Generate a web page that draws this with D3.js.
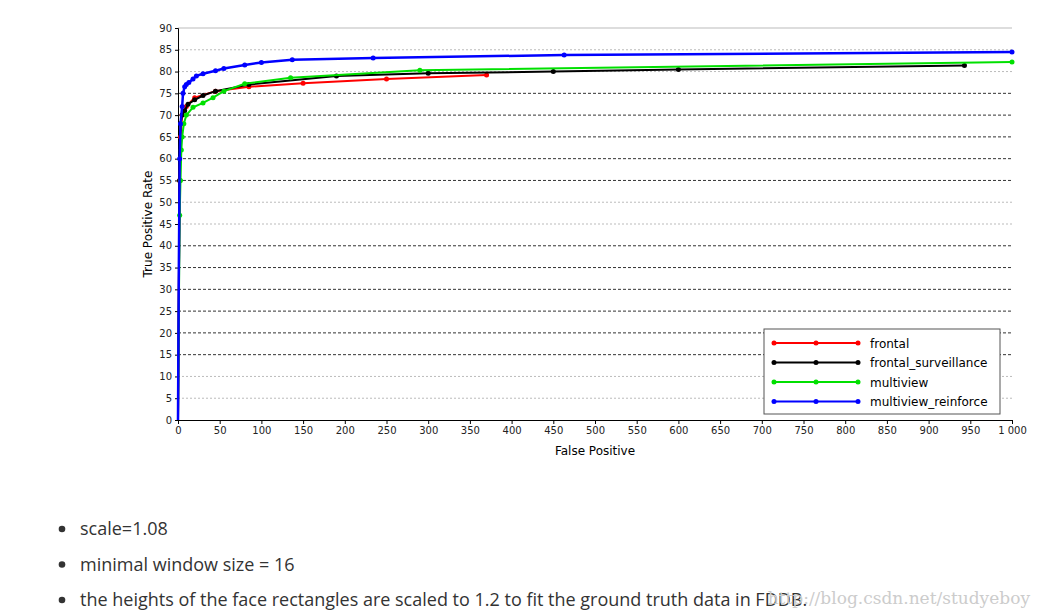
<!DOCTYPE html><html><head><meta charset="utf-8"><script src="https://cdn.jsdelivr.net/npm/d3@7"></script>
<style>body{margin:0;background:#fff;font-family:"DejaVu Sans",sans-serif}</style></head><body><svg id="c" width="1043" height="616"></svg>
<script>
const xTicks=d3.range(0,1001,50);
const yTicks=d3.range(0,91,5);
const lightGrid=[5,10,45,50,80,85];
const seriesNames=["frontal","frontal_surveillance","multiview","multiview_reinforce"];
const seriesColors=["#ff0000","#000000","#00e000","#0000ff"];
const frontal=[[0,0],[1,30],[2,55],[3,65],[5,70],[10,72],[20,74],[45,75.5],[85,76.5],[150,77.3],[250,78.3],[370,79.2]];
const frontalSurv=[[0,0],[1,30],[2,55],[3,68],[5,70],[8,71],[12,72.5],[20,73.5],[30,74.5],[45,75.5],[85,77],[190,79],[300,79.6],[450,80],[600,80.5],[943,81.4]];
const multiview=[[0,0],[1,25],[2,47],[3,55],[4,62],[5,65],[7,68],[10,70],[18,71.8],[30,72.8],[42,74],[55,75.5],[80,77.2],[135,78.6],[290,80.3],[1000,82.2]];
const multiviewRe=[[0,0],[1,35],[2,60],[3,68],[5,72],[6,75],[8,76.5],[10,77],[13,77.5],[18,78.3],[22,79],[30,79.5],[45,80.2],[55,80.7],[80,81.5],[100,82.1],[137,82.7],[234,83.1],[463,83.8],[1000,84.5]];
const allSeries=[frontal,frontalSurv,multiview,multiviewRe];
const bullets=["scale=1.08","minimal window size = 16","the heights of the face rectangles are scaled to 1.2 to fit the ground truth data in FDDB."];

const svg=d3.select("#c");
const x=d3.scaleLinear().domain([0,1000]).range([178,1012]);
const y=d3.scaleLinear().domain([0,90]).range([420,28]);
const g=svg.append("g");
yTicks.filter(v=>v>0).forEach(v=>{
  const light=lightGrid.includes(v)||v===90;
  g.append("line").attr("x1",x(0)).attr("x2",x(1000)).attr("y1",y(v)).attr("y2",y(v))
   .attr("stroke",light?"#bbb":"#333").attr("stroke-width",1)
   .attr("stroke-dasharray",v===90?null:(light?"2,2":"3,2"));
});
const xa=svg.append("g").attr("transform","translate(0,420)").call(d3.axisBottom(x).tickValues(xTicks).tickSize(4).tickFormat(d=>d===1000?"1 000":d));
const ya=svg.append("g").attr("transform","translate(178,0)").call(d3.axisLeft(y).tickValues(yTicks).tickSize(3));
[xa,ya].forEach(a=>{a.selectAll("text").attr("font-size",10).attr("fill","#222").attr("font-family","DejaVu Sans");a.select(".domain").attr("stroke","#000");});
svg.append("text").attr("x",595).attr("y",455).attr("text-anchor","middle").attr("font-size",12).text("False Positive");
svg.append("text").attr("transform","translate(152,224) rotate(-90)").attr("text-anchor","middle").attr("font-size",12).text("True Positive Rate");
const line=d3.line().x(d=>x(d[0])).y(d=>y(d[1]));
allSeries.forEach((s,i)=>{
  svg.append("path").datum(s).attr("d",line).attr("fill","none").attr("stroke",seriesColors[i]).attr("stroke-width",i===3?2.5:2);
  svg.selectAll(null).data(s.filter(d=>d[1]>40)).enter().append("circle").attr("cx",d=>x(d[0])).attr("cy",d=>y(d[1])).attr("r",2.5).attr("fill",seriesColors[i]);
});
const lg=svg.append("g");
lg.append("rect").attr("x",764).attr("y",329).attr("width",236).attr("height",85).attr("fill","#fff").attr("stroke","#555");
seriesNames.forEach((n,i)=>{
  const yy=343+i*19.5;
  lg.append("line").attr("x1",773).attr("x2",859).attr("y1",yy).attr("y2",yy).attr("stroke",seriesColors[i]).attr("stroke-width",2);
  [774,816,858].forEach(cx=>lg.append("circle").attr("cx",cx).attr("cy",yy).attr("r",2.5).attr("fill",seriesColors[i]));
  lg.append("text").attr("x",870).attr("y",yy+4.5).attr("font-size",12).text(n);
});
bullets.forEach((b,i)=>{
  const yy=529+i*35.5;
  svg.append("circle").attr("cx",62).attr("cy",yy).attr("r",3.3).attr("fill","#333");
  svg.append("text").attr("x",80).attr("y",yy+6).attr("font-size",18).attr("font-family","Open Sans").attr("fill","#333").text(b);
});
svg.append("text").attr("x",1030).attr("y",604).attr("text-anchor","end").attr("font-size",17).attr("fill","#ccc").attr("font-family","DejaVu Serif").text("http://blog.csdn.net/studyeboy");
</script></body></html>
